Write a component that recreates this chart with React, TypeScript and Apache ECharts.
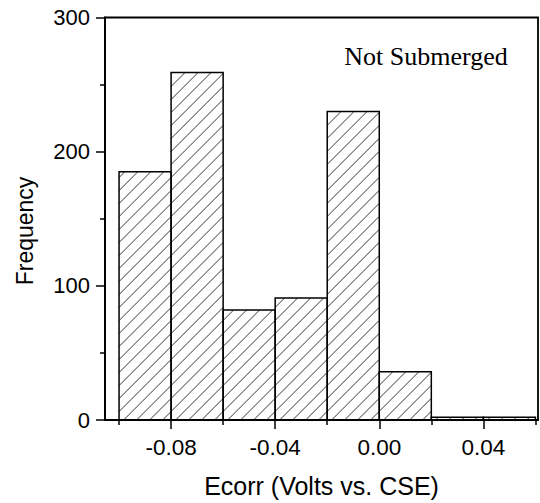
import React, { useEffect, useRef } from 'react';
import * as echarts from 'echarts';

// Histogram bins (left edges), width, counts
const binStarts = [-0.1, -0.08, -0.06, -0.04, -0.02, 0.0, 0.02, 0.04];
const binWidth = 0.02;
const counts = [185, 259, 82, 91, 230, 36, 2, 2];

// Axis ticks
const xMajorTicks = [-0.08, -0.04, 0.0, 0.04];
const xMinorTicks = [-0.1, -0.06, -0.02, 0.02, 0.06];
const yMin = 0;
const yMax = 300;
const yInterval = 100;

const xMin = -0.1054;
const xMax = 0.061;

const SANS = '"Liberation Sans", Arial, sans-serif';
const SERIF = '"Liberation Serif", "Times New Roman", serif';

export default function App() {
  const ref = useRef<HTMLDivElement>(null);

  useEffect(() => {
    document.body.style.margin = '0';
    if (!ref.current) return;
    const chart = echarts.init(ref.current, undefined, { renderer: 'svg' });

    const renderItem = (params: any, api: any) => {
      const a = api.coord([api.value(0), api.value(2)]);
      const b = api.coord([api.value(1), 0]);
      const x0 = a[0], y0 = a[1], x1 = b[0], y1 = b[1];
      const children: any[] = [];
      const step = 13;
      const phase = 10.6;
      const cMin = x0 + y0;
      const cMax = x1 + y1;
      let c = Math.ceil((cMin - phase) / step) * step + phase;
      for (; c <= cMax; c += step) {
        const xa = Math.max(x0, c - y1);
        const xb = Math.min(x1, c - y0);
        if (xb - xa > 0.5) {
          children.push({
            type: 'line',
            shape: { x1: xa, y1: c - xa, x2: xb, y2: c - xb },
            style: { stroke: '#222', lineWidth: 0.9 },
          });
        }
      }
      children.push({
        type: 'rect',
        shape: { x: x0, y: y0, width: x1 - x0, height: y1 - y0 },
        style: { fill: 'none', stroke: '#000', lineWidth: 1.5 },
      });
      return { type: 'group', children };
    };

    const option: any = {
      animation: false,
      backgroundColor: '#fff',
      grid: {
        left: 105,
        right: 2,
        top: 17.5,
        bottom: 83,
        show: true,
        borderColor: '#000',
        borderWidth: 1.8,
        backgroundColor: 'transparent',
      },
      xAxis: [
        {
          type: 'value',
          min: xMin,
          max: xMax,
          position: 'bottom',
          axisLine: { show: true, onZero: false, lineStyle: { color: '#000', width: 1.8 } },
          axisTick: {
            show: true,
            customValues: xMajorTicks,
            length: 9,
            lineStyle: { color: '#000', width: 1.5 },
          },
          axisLabel: {
            customValues: xMajorTicks,
            formatter: (v: number) => v.toFixed(2),
            color: '#000',
            fontSize: 22.5,
            fontFamily: SANS,
            margin: 16,
          },
          splitLine: { show: false },
          name: 'Ecorr (Volts vs. CSE)',
          nameLocation: 'middle',
          nameGap: 53,
          nameTextStyle: { color: '#000', fontSize: 25, fontFamily: SANS },
        },
        {
          type: 'value',
          min: xMin,
          max: xMax,
          position: 'bottom',
          axisLine: { show: false, onZero: false },
          axisTick: {
            show: true,
            customValues: xMinorTicks,
            length: 5,
            lineStyle: { color: '#000', width: 1.5 },
          },
          axisLabel: { show: false },
          splitLine: { show: false },
        },
      ],
      yAxis: {
        type: 'value',
        min: yMin,
        max: yMax,
        interval: yInterval,
        axisLine: { show: true, onZero: false, lineStyle: { color: '#000', width: 1.8 } },
        axisTick: { show: true, length: 9, lineStyle: { color: '#000', width: 1.5 } },
        minorTick: { show: true, splitNumber: 2, length: 5, lineStyle: { color: '#000', width: 1.5 } },
        axisLabel: { color: '#000', fontSize: 22, fontFamily: SANS, margin: 15 },
        splitLine: { show: false },
        minorSplitLine: { show: false },
      },
      graphic: [
        {
          type: 'text',
          x: 426,
          y: 56,
          style: {
            text: 'Not Submerged',
            font: `26px ${SERIF}`,
            fill: '#000',
            align: 'center',
            verticalAlign: 'middle',
          },
        },
        {
          type: 'text',
          x: 25,
          y: 231,
          rotation: Math.PI / 2,
          style: {
            text: 'Frequency',
            font: `23px ${SANS}`,
            fill: '#000',
            align: 'center',
            verticalAlign: 'middle',
          },
        },
      ],
      series: [
        {
          type: 'custom',
          xAxisIndex: 0,
          yAxisIndex: 0,
          renderItem,
          encode: { x: [0, 1], y: 2 },
          data: binStarts.map((s, i) => [s, s + binWidth, counts[i]]),
        },
      ],
    };

    chart.setOption(option);
    return () => {
      chart.dispose();
    };
  }, []);

  return <div ref={ref} style={{ width: 540, height: 503 }} />;
}
